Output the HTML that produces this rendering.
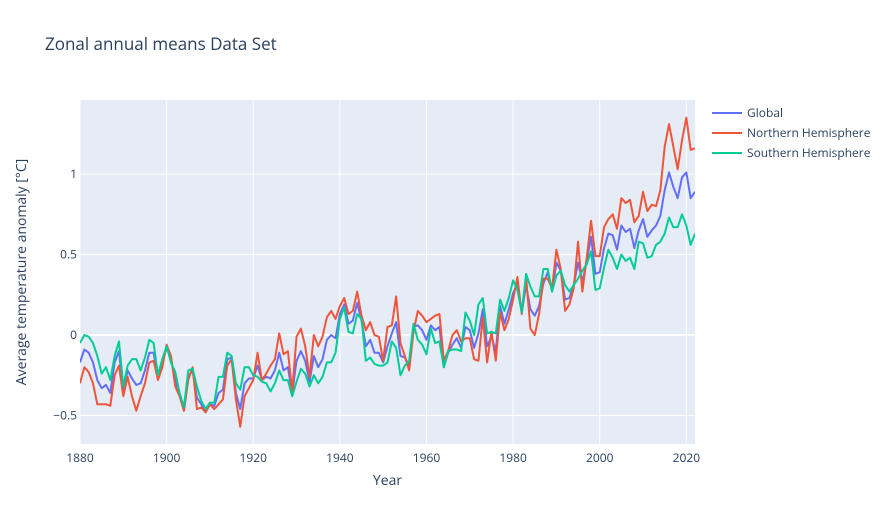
<!DOCTYPE html>
<html><head><meta charset="utf-8"><style>
body{margin:0;background:#fff;}
svg{display:block;font-family:"Open Sans","Liberation Sans",sans-serif;}
</style></head><body>
<svg id="chart" width="896" height="525"></svg>
<script>
const years = [];
for (let y = 1880; y <= 2022; y++) years.push(y);
const globalVals = [-0.17,-0.09,-0.11,-0.17,-0.28,-0.33,-0.31,-0.36,-0.17,-0.10,
-0.35,-0.22,-0.27,-0.31,-0.30,-0.22,-0.11,-0.11,-0.27,-0.17,
-0.08,-0.15,-0.28,-0.37,-0.47,-0.26,-0.22,-0.39,-0.43,-0.48,
-0.43,-0.44,-0.36,-0.34,-0.15,-0.14,-0.36,-0.46,-0.30,-0.27,
-0.27,-0.19,-0.28,-0.26,-0.27,-0.22,-0.11,-0.22,-0.20,-0.36,
-0.16,-0.10,-0.16,-0.29,-0.13,-0.20,-0.15,-0.03,0.00,-0.02,
0.13,0.19,0.07,0.09,0.20,0.09,-0.07,-0.03,-0.11,-0.11,
-0.17,-0.07,0.01,0.08,-0.13,-0.14,-0.19,0.05,0.06,0.03,
-0.03,0.06,0.03,0.05,-0.20,-0.11,-0.06,-0.02,-0.08,0.05,
0.03,-0.08,0.01,0.16,-0.07,-0.01,-0.10,0.18,0.07,0.16,
0.26,0.32,0.14,0.31,0.16,0.12,0.18,0.32,0.39,0.27,
0.45,0.40,0.22,0.23,0.31,0.45,0.33,0.46,0.61,0.38,
0.39,0.54,0.63,0.62,0.53,0.68,0.64,0.66,0.54,0.65,
0.72,0.61,0.65,0.68,0.74,0.90,1.01,0.92,0.85,0.98,
1.01,0.85,0.89];
const nhVals = [-0.30,-0.20,-0.23,-0.30,-0.43,-0.43,-0.43,-0.44,-0.25,-0.19,
-0.38,-0.26,-0.38,-0.47,-0.38,-0.30,-0.17,-0.16,-0.28,-0.20,
-0.06,-0.13,-0.32,-0.38,-0.47,-0.28,-0.20,-0.46,-0.45,-0.48,
-0.43,-0.46,-0.43,-0.40,-0.19,-0.15,-0.40,-0.57,-0.38,-0.33,
-0.28,-0.11,-0.28,-0.24,-0.19,-0.15,0.01,-0.12,-0.10,-0.35,
-0.01,0.04,-0.07,-0.26,0.00,-0.07,-0.01,0.11,0.15,0.10,
0.18,0.23,0.13,0.15,0.27,0.12,0.03,0.08,0.00,-0.01,
-0.16,0.05,0.06,0.24,-0.05,-0.13,-0.22,0.02,0.15,0.12,
0.08,0.10,0.12,0.13,-0.16,-0.10,0.00,0.03,-0.04,-0.02,
-0.02,-0.15,-0.16,0.11,-0.17,0.02,-0.16,0.14,0.03,0.10,
0.22,0.36,0.13,0.36,0.04,0.00,0.13,0.35,0.35,0.29,
0.53,0.41,0.15,0.19,0.29,0.58,0.27,0.48,0.71,0.49,
0.49,0.67,0.72,0.75,0.66,0.85,0.82,0.84,0.70,0.74,
0.89,0.77,0.81,0.80,0.90,1.17,1.31,1.17,1.03,1.21,
1.35,1.15,1.16];
const shVals = [-0.05,0.00,-0.01,-0.05,-0.13,-0.24,-0.20,-0.28,-0.13,-0.04,
-0.32,-0.19,-0.15,-0.15,-0.22,-0.14,-0.03,-0.05,-0.25,-0.15,
-0.07,-0.17,-0.23,-0.36,-0.45,-0.22,-0.21,-0.32,-0.41,-0.46,
-0.42,-0.42,-0.26,-0.26,-0.11,-0.13,-0.30,-0.34,-0.20,-0.20,
-0.25,-0.26,-0.29,-0.30,-0.35,-0.30,-0.22,-0.28,-0.28,-0.38,
-0.29,-0.21,-0.24,-0.32,-0.25,-0.30,-0.26,-0.17,-0.17,-0.11,
0.10,0.17,0.02,0.01,0.13,0.10,-0.16,-0.14,-0.18,-0.19,
-0.19,-0.17,-0.04,-0.08,-0.25,-0.19,-0.16,0.07,-0.03,-0.06,
-0.12,0.04,-0.05,-0.04,-0.20,-0.10,-0.09,-0.09,-0.10,0.14,
0.09,0.00,0.19,0.23,0.01,0.02,0.01,0.22,0.15,0.23,
0.34,0.28,0.14,0.38,0.30,0.24,0.24,0.41,0.41,0.27,
0.37,0.40,0.31,0.27,0.31,0.35,0.40,0.44,0.52,0.28,
0.29,0.42,0.53,0.48,0.41,0.50,0.46,0.48,0.41,0.58,
0.57,0.48,0.49,0.56,0.58,0.63,0.73,0.67,0.67,0.75,
0.68,0.56,0.63];
const xTicks = [1880,1900,1920,1940,1960,1980,2000,2020];
const yTicks = [-0.5,0,0.5,1];
const yTickLabels = ["\u22120.5","0","0.5","1"];
const seriesNames = ["Global","Northern Hemisphere","Southern Hemisphere"];

const NS = "http://www.w3.org/2000/svg";
const svg = document.getElementById("chart");
const L = 80, R = 695, T = 100, B = 444;
const xMin = 1880, xMax = 2022, yMin = -0.677, yMax = 1.46;
const xs = v => L + (v - xMin) / (xMax - xMin) * (R - L);
const ys = v => B - (v - yMin) / (yMax - yMin) * (B - T);
function mk(tag, attrs, parent) {
  const e = document.createElementNS(NS, tag);
  for (const k in attrs) e.setAttribute(k, attrs[k]);
  (parent || svg).appendChild(e);
  return e;
}
const bg = mk("rect", {x:L, y:T, width:R-L, height:B-T, fill:"#e5ecf6"});


xTicks.forEach(t => {
  const g = mk("line", {x1:xs(t), x2:xs(t), y1:T, y2:B, stroke:"#fff", "stroke-width":1});
  
  
  const tx = mk("text", {x:xs(t), y:B+18, "text-anchor":"middle", "font-size":12, fill:"#2a3f5f"});
  tx.textContent = t;
  
  
});
yTicks.forEach((t, i) => {
  const g = mk("line", {x1:L, x2:R, y1:ys(t), y2:ys(t), stroke:"#fff", "stroke-width": t === 0 ? 2 : 1});
  
  
  const tx = mk("text", {x:L-3, y:ys(t)+4, "text-anchor":"end", "font-size":12, fill:"#2a3f5f"});
  tx.textContent = yTickLabels[i];
  
  
});
const colors = ["#636efa","#EF553B","#00cc96"];
const allSeries = [globalVals, nhVals, shVals];
const clip = mk("clipPath", {id:"pc"});
mk("rect", {x:L, y:T, width:R-L, height:B-T}, clip);
allSeries.forEach((vals, si) => {
  const d = vals.map((v, i) => (i ? "L" : "M") + xs(years[i]).toFixed(2) + "," + ys(v).toFixed(2)).join("");
  const p = mk("path", {d:d, fill:"none", stroke:colors[si], "stroke-width":2, "stroke-linejoin":"round", "clip-path":"url(#pc)"});
  
  
  const ly = 113 + si * 20;
  const ll = mk("line", {x1:712, x2:742, y1:ly, y2:ly, stroke:colors[si], "stroke-width":2});
  
  
  const lt = mk("text", {x:747, y:ly+4, "font-size":12, fill:"#2a3f5f"});
  lt.textContent = seriesNames[si];
  
  
});
const title = mk("text", {x:45, y:50, "font-size":17, fill:"#2a3f5f"});
title.textContent = "Zonal annual means Data Set";


const xt = mk("text", {x:(L+R)/2, y:485, "text-anchor":"middle", "font-size":14, fill:"#2a3f5f"});
xt.textContent = "Year";


const yt = mk("text", {x:0, y:0, "text-anchor":"middle", "font-size":14, fill:"#2a3f5f", transform:"translate(26,272) rotate(-90)"});
yt.textContent = "Average temperature anomaly [°C]";


</script>
</body></html>
